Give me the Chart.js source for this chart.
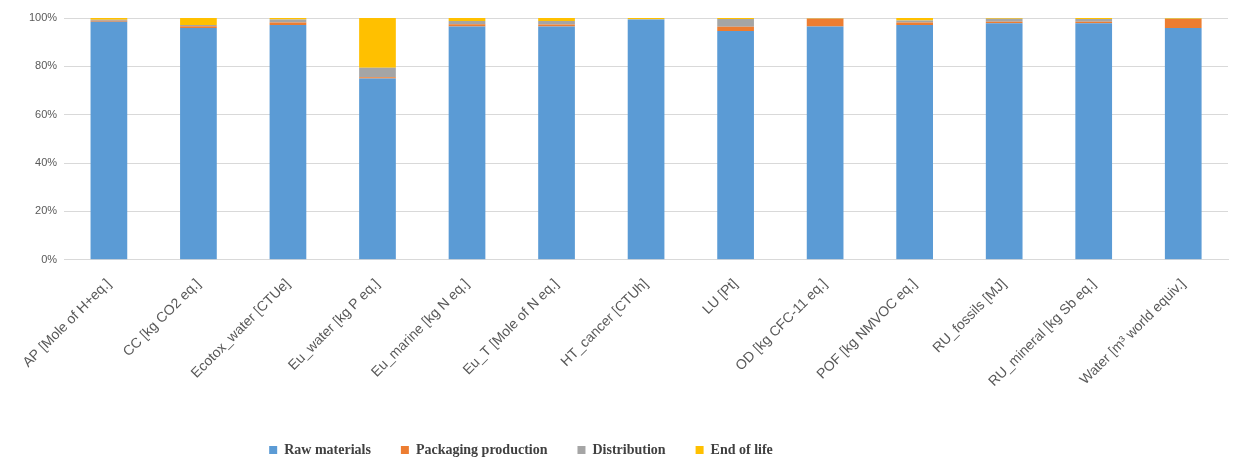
<!DOCTYPE html>
<html>
<head>
<meta charset="utf-8">
<script src="https://cdn.jsdelivr.net/npm/chart.js@4"></script>
<style>
  html, body { margin: 0; padding: 0; background: #fff; }
  #wrap { width: 1236px; height: 459px; }
</style>
</head>
<body>
<div id="wrap"><canvas id="impactChart" width="1236" height="459"></canvas></div>
<script>
// impact categories and share of each life-cycle stage (%)
const categories = [
    'AP [Mole of H+eq.]', 'CC [kg CO2 eq.]', 'Ecotox_water [CTUe]', 'Eu_water [kg P eq.]',
    'Eu_marine [kg N eq.]', 'Eu_T [Mole of N eq.]', 'HT_cancer [CTUh]', 'LU [Pt]',
    'OD [kg CFC-11 eq.]', 'POF [kg NMVOC eq.]', 'RU_fossils [MJ]', 'RU_mineral [kg Sb eq.]',
    'Water [m³ world equiv.]'
];
const rawMaterials = [98.4, 95.9, 97.1, 75.0, 96.5, 96.5, 99.4, 94.6, 96.5, 97.1, 97.8, 97.8, 95.9];
const packagingProduction = [0.5, 0.7, 1.0, 0.5, 0.9, 0.8, 0.0, 1.8, 3.2, 1.0, 0.7, 0.7, 3.7];
const distribution = [0.4, 0.5, 1.3, 3.9, 1.4, 1.5, 0.05, 3.2, 0.05, 0.9, 1.2, 1.1, 0.05];
const endOfLife = [0.7, 2.9, 0.6, 20.6, 1.2, 1.2, 0.55, 0.4, 0.25, 1.0, 0.3, 0.4, 0.35];
const yTicks = [0, 20, 40, 60, 80, 100];

// move the legend left and down a little, like the original sheet
const legendShift = {
    id: 'legendShift',
    afterLayout(chart) {
        if (chart.legend) {
            chart.legend.right -= 208;
            chart.legend.top += 10;
        }
    },
};

const ctx = document.getElementById('impactChart').getContext('2d');
new Chart(ctx, {
    type: 'bar',
    data: {
        labels: categories,
        datasets: [
            { label: 'Raw materials', data: rawMaterials, backgroundColor: '#5B9BD5' },
            { label: 'Packaging production', data: packagingProduction, backgroundColor: '#ED7D31' },
            { label: 'Distribution', data: distribution, backgroundColor: '#A5A5A5' },
            { label: 'End of life', data: endOfLife, backgroundColor: '#FFC000' },
        ],
    },
    options: {
        responsive: false,
        animation: false,
        layout: { padding: { left: 22, right: 8, top: 18, bottom: 2 } },
        datasets: {
            bar: { categoryPercentage: 1, barPercentage: 0.41, borderWidth: 0 },
        },
        scales: {
            x: {
                stacked: true,
                grid: { display: false, drawTicks: false },
                border: { color: '#d9d9d9' },
                ticks: {
                    color: '#595959',
                    font: { family: 'Liberation Sans', size: 14 },
                    minRotation: 45,
                    maxRotation: 45,
                    padding: 16,
                },
                afterFit(scale) {
                    scale.height -= 3;
                },
            },
            y: {
                stacked: true,
                min: 0,
                max: 100,
                grid: { color: '#d9d9d9', drawTicks: false },
                border: { display: false },
                afterBuildTicks(scale) {
                    scale.ticks = yTicks.map(v => ({ value: v }));
                },
                ticks: {
                    color: '#595959',
                    font: { family: 'Liberation Sans', size: 11 },
                    padding: 7,
                    callback: function (value) {
                        return `${value}%`;
                    },
                },
            },
        },
        plugins: {
            legend: {
                position: 'bottom',
                labels: {
                    boxWidth: 8,
                    boxHeight: 8,
                    padding: 30,
                    color: '#404040',
                    font: { family: 'Liberation Serif', size: 14, weight: 'bold' },
                },
            },
            tooltip: { enabled: false },
        },
    },
    plugins: [legendShift],
});
</script>
</body>
</html>
